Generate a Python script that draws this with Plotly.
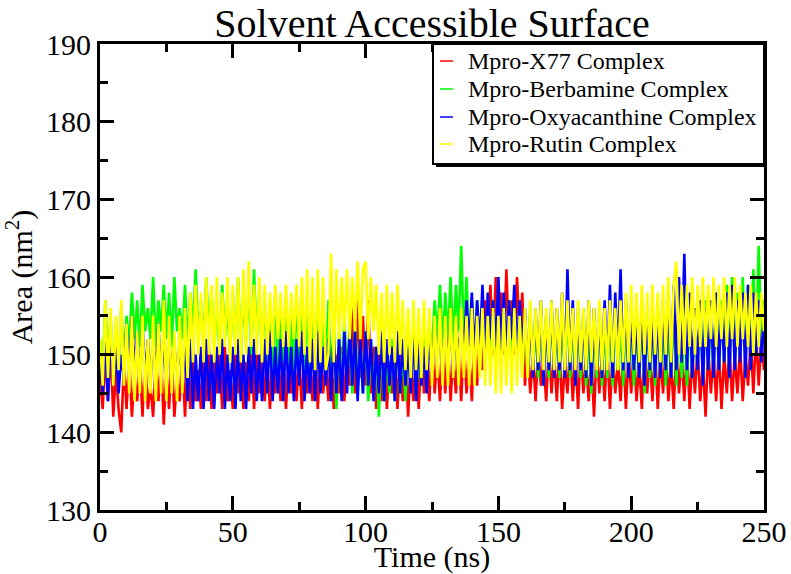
import plotly.graph_objects as go

FONT = "Liberation Serif"

time_ns = list(range(0, 251))

series_names = ["Mpro-X77 Complex", "Mpro-Berbamine Complex",
                "Mpro-Oxyacanthine Complex", "Mpro-Rutin Complex"]
series_colors = ["#ff0000", "#00ff00", "#0000ff", "#ffff00"]

area_x77 = [
    147, 143, 150, 144, 151, 142, 148, 143, 140, 149,
    143, 150, 142, 147, 144, 149, 142, 150, 143, 146,
    142, 149, 144, 150, 141, 148, 143, 150, 142, 147,
    144, 150, 142, 149, 143, 151, 144, 148, 143, 150,
    144, 151, 143, 149, 145, 150, 143, 151, 144, 148,
    143, 150, 145, 151, 143, 149, 144, 151, 143, 150,
    145, 151, 144, 149, 143, 151, 145, 150, 144, 151,
    143, 149, 145, 151, 144, 150, 143, 151, 145, 149,
    144, 151, 143, 150, 145, 149, 144, 151, 143, 150,
    145, 151, 144, 150, 146, 156, 145, 157, 147, 155,
    146, 157, 145, 151, 143, 150, 144, 151, 143, 149,
    145, 151, 143, 150, 144, 151, 142, 149, 144, 150,
    143, 151, 145, 149, 144, 152, 145, 150, 144, 151,
    145, 152, 144, 150, 145, 151, 144, 152, 145, 150,
    144, 152, 146, 153, 148, 157, 151, 159, 150, 160,
    152, 158, 150, 161, 151, 157, 150, 160, 152, 158,
    146, 151, 145, 150, 144, 151, 146, 149, 144, 151,
    145, 150, 144, 151, 143, 149, 145, 151, 144, 150,
    143, 151, 145, 149, 144, 150, 142, 151, 145, 150,
    144, 151, 143, 150, 145, 149, 144, 151, 143, 150,
    145, 151, 144, 149, 143, 151, 145, 150, 144, 151,
    143, 150, 145, 151, 144, 149, 143, 151, 145, 150,
    144, 151, 143, 150, 145, 151, 144, 149, 142, 151,
    145, 150, 144, 151, 143, 150, 145, 151, 144, 150,
    145, 151, 144, 150, 146, 152, 145, 153, 146, 152,
    148,
]

area_berbamine = [
    152, 148, 157, 149, 155, 147, 154, 148, 156, 149,
    155, 151, 158, 152, 157, 151, 159, 153, 156, 152,
    160, 151, 157, 153, 159, 152, 158, 151, 160, 153,
    156, 152, 159, 151, 158, 153, 161, 152, 157, 151,
    160, 153, 158, 151, 157, 150, 159, 152, 156, 150,
    158, 151, 160, 150, 157, 152, 159, 150, 161, 151,
    158, 150, 157, 149, 156, 148, 158, 147, 155, 149,
    157, 148, 156, 147, 158, 149, 155, 147, 157, 148,
    156, 147, 158, 148, 155, 147, 157, 146, 154, 143,
    153, 146, 155, 147, 152, 145, 154, 146, 151, 145,
    153, 144, 152, 145, 151, 142, 153, 144, 150, 145,
    152, 144, 153, 145, 151, 144, 152, 146, 153, 145,
    151, 146, 153, 148, 154, 150, 157, 152, 159, 151,
    158, 152, 160, 151, 159, 153, 164, 152, 160, 151,
    156, 149, 157, 148, 155, 149, 156, 148, 157, 149,
    155, 148, 156, 149, 157, 148, 155, 149, 156, 148,
    155, 147, 156, 148, 154, 147, 156, 148, 155, 147,
    156, 148, 154, 147, 155, 148, 156, 147, 154, 148,
    155, 147, 156, 146, 154, 145, 155, 147, 156, 146,
    154, 147, 156, 146, 155, 148, 154, 146, 156, 147,
    155, 146, 154, 147, 156, 145, 155, 147, 154, 146,
    156, 147, 155, 146, 154, 147, 156, 146, 155, 147,
    154, 146, 156, 147, 155, 148, 156, 147, 157, 148,
    156, 147, 158, 148, 157, 149, 159, 148, 160, 149,
    158, 150, 160, 149, 159, 151, 161, 150, 164, 151,
    157,
]

area_oxyacanthine = [
    149, 145, 152, 144, 153, 146, 151, 145, 150, 147,
    154, 147, 155, 148, 153, 146, 154, 147, 152, 146,
    153, 147, 154, 146, 152, 147, 153, 146, 151, 147,
    152, 146, 151, 144, 152, 143, 150, 144, 151, 143,
    152, 144, 150, 143, 151, 145, 152, 143, 150, 144,
    151, 143, 152, 144, 150, 143, 151, 145, 152, 144,
    150, 144, 152, 145, 153, 144, 151, 145, 152, 144,
    153, 145, 151, 144, 152, 146, 153, 144, 151, 145,
    152, 144, 153, 145, 151, 146, 152, 144, 153, 145,
    152, 144, 153, 145, 154, 146, 153, 144, 152, 145,
    153, 146, 152, 144, 151, 145, 153, 144, 152, 146,
    151, 144, 153, 145, 152, 146, 151, 145, 153, 144,
    152, 146, 151, 145, 153, 147, 154, 148, 155, 147,
    154, 148, 155, 147, 154, 149, 155, 150, 157, 151,
    158, 150, 157, 151, 159, 150, 158, 152, 157, 151,
    160, 150, 158, 151, 157, 152, 159, 150, 157, 151,
    156, 148, 155, 147, 156, 148, 157, 146, 155, 148,
    157, 147, 156, 148, 158, 147, 161, 148, 157, 146,
    156, 148, 155, 147, 157, 146, 156, 148, 155, 147,
    157, 148, 159, 147, 158, 149, 161, 148, 157, 147,
    156, 148, 155, 147, 157, 146, 156, 148, 155, 147,
    156, 147, 157, 148, 158, 147, 159, 148, 160, 149,
    163, 148, 158, 147, 156, 148, 157, 146, 156, 148,
    157, 147, 158, 148, 156, 149, 158, 147, 159, 148,
    157, 149, 158, 147, 159, 148, 158, 150, 157, 149,
    154,
]

area_rutin = [
    152, 146, 157, 147, 156, 146, 155, 148, 157, 146,
    154, 145, 155, 144, 153, 145, 155, 144, 152, 145,
    155, 144, 154, 145, 157, 144, 155, 145, 153, 144,
    155, 145, 156, 147, 158, 149, 159, 150, 158, 149,
    160, 150, 159, 149, 160, 150, 158, 151, 160, 149,
    159, 150, 160, 149, 161, 150, 162, 151, 159, 150,
    160, 149, 159, 150, 158, 151, 159, 152, 158, 151,
    159, 151, 158, 152, 159, 151, 160, 150, 161, 149,
    160, 148, 161, 149, 160, 148, 150, 163, 149, 161,
    152, 160, 153, 161, 152, 160, 153, 162, 152, 161,
    162, 152, 160, 153, 159, 150, 158, 149, 159, 150,
    158, 149, 159, 150, 157, 148, 156, 147, 157, 148,
    156, 147, 157, 148, 156, 146, 155, 147, 156, 146,
    155, 146, 156, 147, 155, 146, 156, 147, 155, 146,
    156, 146, 155, 147, 156, 146, 155, 146, 156, 145,
    155, 145, 156, 146, 155, 145, 156, 146, 155, 147,
    156, 147, 157, 148, 156, 149, 157, 148, 156, 149,
    157, 148, 156, 149, 158, 148, 157, 149, 156, 148,
    157, 149, 156, 148, 157, 149, 156, 148, 157, 148,
    156, 148, 157, 149, 156, 148, 157, 149, 158, 149,
    159, 150, 158, 149, 159, 150, 158, 149, 159, 150,
    158, 149, 159, 150, 160, 149, 159, 162, 150, 159,
    150, 159, 151, 160, 150, 159, 151, 160, 151, 159,
    152, 160, 151, 159, 152, 160, 151, 159, 152, 160,
    151, 159, 152, 158, 151, 159, 150, 158, 151, 158,
    153,
]

all_series = [area_x77, area_berbamine, area_oxyacanthine, area_rutin]

W, H = 791, 574
ML, MR, MT, MB = 100, 27, 44, 64


def px(x):
    # pixel column -> paper x
    return (x - ML) / (W - ML - MR)


def py(y):
    # pixel row -> paper y
    return (H - MB - y) / (H - MT - MB)


fig = go.Figure()
for name, color, values in zip(series_names, series_colors, all_series):
    fig.add_trace(go.Scatter(
        x=time_ns, y=values, mode="lines", name=name,
        line=dict(color=color, width=2.6)))

axis_common = dict(
    showline=True, linewidth=3, linecolor="black", mirror="allticks",
    ticks="inside", ticklen=14, tickwidth=3, tickcolor="black",
    showgrid=False, zeroline=False,
    tickfont=dict(family=FONT, size=30, color="black"),
)

# hand-made Grace style legend box with shadow
shapes = [
    dict(type="rect", xref="paper", yref="paper",
         x0=px(436), x1=px(767), y0=py(167), y1=py(47),
         fillcolor="black", line=dict(width=0), layer="above"),
    dict(type="rect", xref="paper", yref="paper",
         x0=px(433), x1=px(764), y0=py(164), y1=py(44),
         fillcolor="white", line=dict(color="black", width=2), layer="above"),
]
annotations = []
row_y = [61, 89, 117, 144]
for name, color, ry in zip(series_names, series_colors, row_y):
    shapes.append(dict(type="line", xref="paper", yref="paper",
                       x0=px(440), x1=px(453), y0=py(ry), y1=py(ry),
                       line=dict(color=color, width=1.5), layer="above"))
    annotations.append(dict(text=name, xref="paper", yref="paper",
                            x=px(466), y=py(ry), xanchor="left", yanchor="middle",
                            showarrow=False,
                            font=dict(family=FONT, size=24, color="black")))

fig.update_layout(
    width=W, height=H,
    margin=dict(l=ML, r=MR, t=MT, b=MB, autoexpand=False),
    paper_bgcolor="white", plot_bgcolor="white",
    font=dict(family=FONT, color="black"),
    showlegend=False,
    title=dict(text="Solvent Accessible Surface", x=0.5, xref="paper", xanchor="center",
               y=1 - 23 / H, yanchor="middle",
               font=dict(family=FONT, size=40, color="black")),
    xaxis=dict(range=[0, 250], dtick=50, ticklabelstandoff=-7,
               minor=dict(ticks="inside", ticklen=8, dtick=25, tickwidth=3, tickcolor="black"),
               title=dict(text="Time (ns)", standoff=16,
                          font=dict(family=FONT, size=30, color="black")),
               **axis_common),
    yaxis=dict(range=[130, 190], dtick=10,
               minor=dict(ticks="inside", ticklen=8, dtick=5, tickwidth=3, tickcolor="black"),
               title=dict(text="Area (nm<sup>2</sup>)", standoff=6,
                          font=dict(family=FONT, size=30, color="black")),
               **axis_common),
    shapes=shapes,
    annotations=annotations,
)

fig.write_html("out.html", config={"displayModeBar": False},
               post_script="document.body.style.margin='0';")
